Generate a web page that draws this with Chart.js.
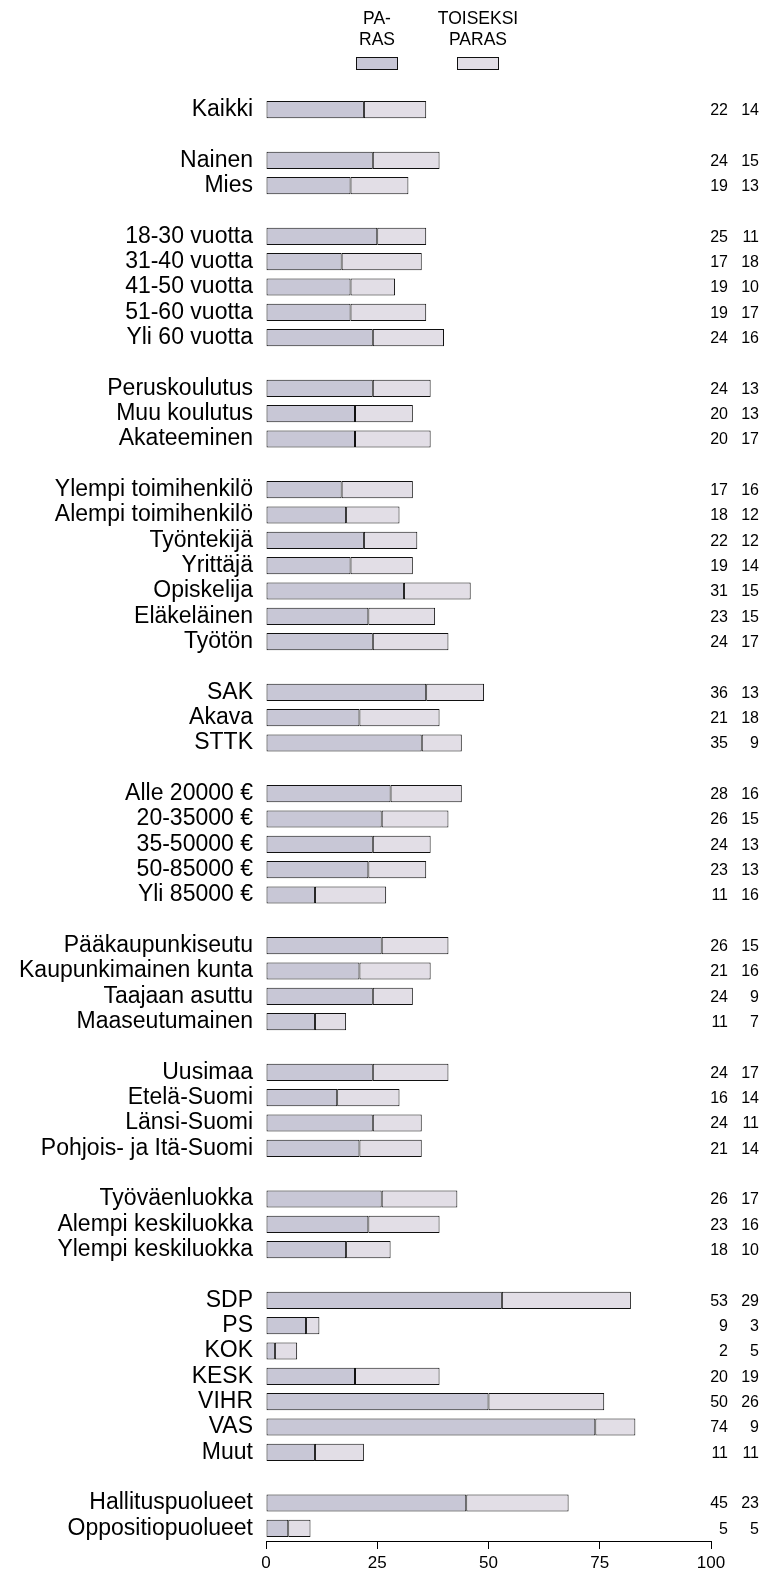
<!DOCTYPE html>
<html>
<head>
<meta charset="utf-8">
<script src="https://cdn.jsdelivr.net/npm/chart.js@4/dist/chart.umd.min.js"></script>
<style>
html,body{margin:0;padding:0;background:#fff;}
#wrap{width:764px;height:1575px;position:relative;}
</style>
</head>
<body>
<div id="wrap"><canvas id="c" width="764" height="1575"></canvas></div>
<script>
// Category labels ('' = empty spacer row)
const categories = [
  'Kaikki','',
  'Nainen','Mies','',
  '18-30 vuotta','31-40 vuotta','41-50 vuotta','51-60 vuotta','Yli 60 vuotta','',
  'Peruskoulutus','Muu koulutus','Akateeminen','',
  'Ylempi toimihenkilö','Alempi toimihenkilö','Työntekijä','Yrittäjä','Opiskelija','Eläkeläinen','Työtön','',
  'SAK','Akava','STTK','',
  'Alle 20000 €','20-35000 €','35-50000 €','50-85000 €','Yli 85000 €','',
  'Pääkaupunkiseutu','Kaupunkimainen kunta','Taajaan asuttu','Maaseutumainen','',
  'Uusimaa','Etelä-Suomi','Länsi-Suomi','Pohjois- ja Itä-Suomi','',
  'Työväenluokka','Alempi keskiluokka','Ylempi keskiluokka','',
  'SDP','PS','KOK','KESK','VIHR','VAS','Muut','',
  'Hallituspuolueet','Oppositiopuolueet'
];
// "PARAS" (best)
const paras = [
  22,null,
  24,19,null,
  25,17,19,19,24,null,
  24,20,20,null,
  17,18,22,19,31,23,24,null,
  36,21,35,null,
  28,26,24,23,11,null,
  26,21,24,11,null,
  24,16,24,21,null,
  26,23,18,null,
  53,9,2,20,50,74,11,null,
  45,5
];
// "TOISEKSI PARAS" (second best)
const toiseksi = [
  14,null,
  15,13,null,
  11,18,10,17,16,null,
  13,13,17,null,
  16,12,12,14,15,15,17,null,
  13,18,9,null,
  16,15,13,13,16,null,
  15,16,9,7,null,
  17,14,11,14,null,
  17,16,10,null,
  29,3,5,19,26,9,11,null,
  23,5
];
const seriesNames = [['PA-','RAS'], ['TOISEKSI','PARAS']];
const xTicks = [0,25,50,75,100];

const FONT = "'Liberation Sans', Arial, sans-serif";
const C1 = '#c8c7d6';
const C2 = '#e2dee6';
const BORDER = '#111111';

const extras = {
  id: 'extras',
  afterDraw(chart) {
    const ctx = chart.ctx;
    const y = chart.scales.y;
    ctx.save();
    ctx.fillStyle = '#000';
    ctx.font = '16px ' + FONT;
    ctx.textBaseline = 'middle';
    ctx.textAlign = 'right';
    for (let i = 0; i < categories.length; i++) {
      if (paras[i] === null) continue;
      const py = y.getPixelForValue(i) + 1;
      ctx.fillText(String(paras[i]), 728, py);
      ctx.fillText(String(toiseksi[i]), 759, py);
    }
    // legend
    const cols = [{cx: 377, color: C1}, {cx: 478, color: C2}];
    ctx.textAlign = 'center';
    ctx.font = '17.5px ' + FONT;
    cols.forEach((c, k) => {
      const lines = seriesNames[k];
      ctx.fillStyle = '#000';
      ctx.fillText(lines[0], c.cx, 19);
      ctx.fillText(lines[1], c.cx, 40);
      ctx.fillStyle = c.color;
      ctx.fillRect(c.cx - 20, 57, 41, 13);
      ctx.strokeStyle = BORDER;
      ctx.lineWidth = 1;
      ctx.strokeRect(c.cx - 20.5, 57.5, 41, 12);
    });
    ctx.restore();
  }
};

new Chart(document.getElementById('c'), {
  type: 'bar',
  data: {
    labels: categories,
    datasets: [
      {label: 'PARAS', data: paras, backgroundColor: C1},
      {label: 'TOISEKSI PARAS', data: toiseksi, backgroundColor: C2}
    ]
  },
  options: {
    indexAxis: 'y',
    responsive: false,
    animation: false,
    devicePixelRatio: 1,
    layout: {padding: {top: 97, right: 53, bottom: 0, left: 0}},
    datasets: {
      bar: {
        borderColor: BORDER,
        borderWidth: 1,
        borderSkipped: false,
        inflateAmount: 0,
        barPercentage: 0.68,
        categoryPercentage: 1
      }
    },
    plugins: {legend: {display: false}, tooltip: {enabled: false}},
    scales: {
      x: {
        stacked: true,
        min: 0, max: 100,
        afterFit(s) { s.height = 34; },
        afterBuildTicks(s) { s.ticks = xTicks.map(v => ({value: v})); },
        ticks: {color: '#000', font: {family: FONT, size: 17}, padding: 4, maxRotation: 0},
        grid: {display: true, drawOnChartArea: false, drawTicks: true, tickLength: 8, color: '#000'},
        border: {display: true, color: '#000', width: 1}
      },
      y: {
        stacked: true,
        afterFit(s) { s.width = 266; },
        ticks: {color: '#000', font: {family: FONT, size: 23}, padding: 13, autoSkip: false},
        grid: {display: false, drawTicks: false},
        border: {display: false}
      }
    }
  },
  plugins: [extras]
});
</script>
</body>
</html>
